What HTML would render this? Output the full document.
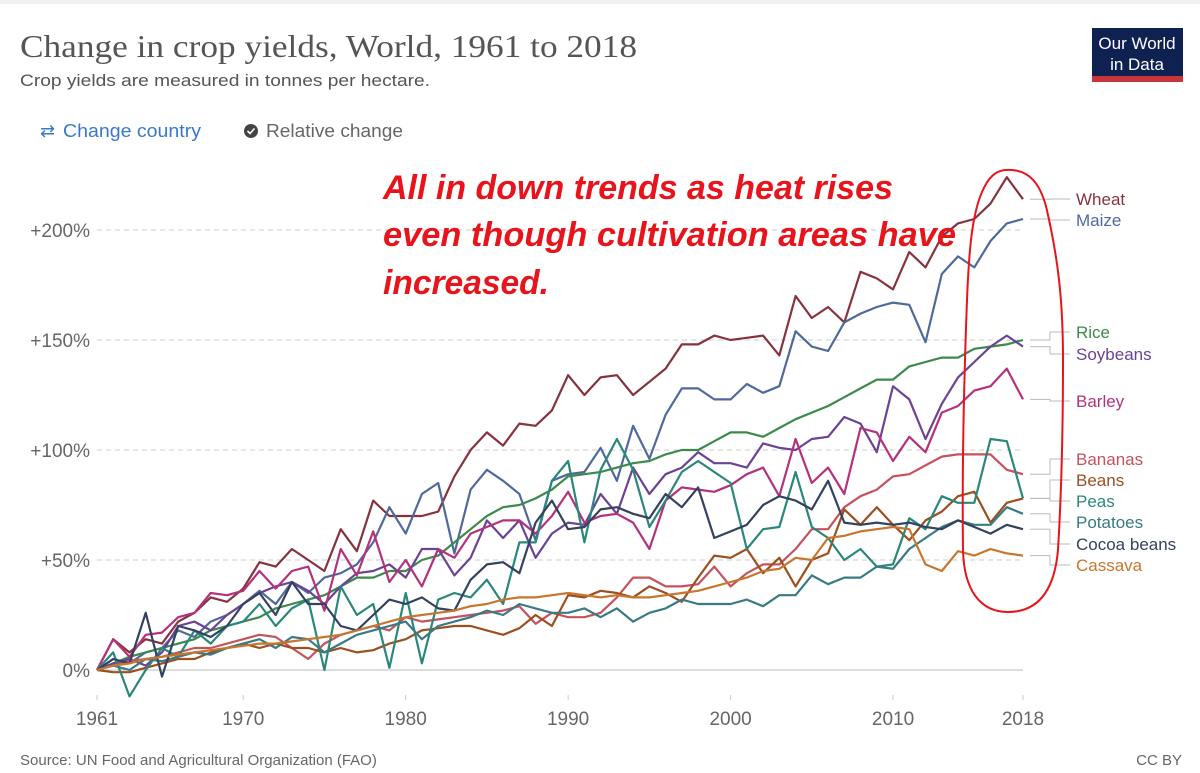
<!DOCTYPE html>
<html><head><meta charset="utf-8">
<style>
html,body{margin:0;padding:0;background:#fff;}
svg{display:block;font-family:"Liberation Sans",sans-serif;}
</style></head>
<body>
<svg id="chart" width="1200" height="773" viewBox="0 0 1200 773">
  <rect x="0" y="0" width="1200" height="773" fill="#fff"/>
  <rect x="0" y="0" width="1200" height="4" fill="#f0f0f0"/>
  <text x="20" y="57" font-family="'Liberation Serif',serif" font-size="32" fill="#555" textLength="617" lengthAdjust="spacingAndGlyphs">Change in crop yields, World, 1961 to 2018</text>
  <text x="20" y="86" font-size="17" fill="#555" textLength="410" lengthAdjust="spacingAndGlyphs">Crop yields are measured in tonnes per hectare.</text>
  <g>
    <rect x="1092" y="28" width="91" height="54" fill="#0f2150"/>
    <rect x="1092" y="76" width="91" height="6" fill="#c8353a"/>
    <text x="1137" y="49" font-size="17" fill="#fff" text-anchor="middle">Our World</text>
    <text x="1137" y="70" font-size="17" fill="#fff" text-anchor="middle">in Data</text>
  </g>
  <g>
    <text x="40" y="137" font-size="18" fill="#3a78c9">⇄</text>
    <text x="63" y="137" font-size="18" fill="#3a78c9" textLength="138" lengthAdjust="spacingAndGlyphs">Change country</text>
  </g>
  <g>
    <circle cx="251" cy="131" r="7" fill="#444"/>
    <path d="M247.5 131 l2.5 2.5 l4.5 -5" stroke="#fff" stroke-width="1.6" fill="none"/>
    <text x="266" y="137" font-size="18" fill="#666" textLength="137" lengthAdjust="spacingAndGlyphs">Relative change</text>
  </g>
  <g id="grid"></g>
  <g id="yticks"></g>
  <g id="xticks"></g>
  <g id="series"></g>
  <g id="labels"></g>
  <g font-size="34" font-style="italic" font-weight="bold" fill="#e8141c">
    <text x="383" y="199" textLength="510" lengthAdjust="spacingAndGlyphs">All in down trends as heat rises</text>
    <text x="383" y="246" textLength="573" lengthAdjust="spacingAndGlyphs">even though cultivation areas have</text>
    <text x="383" y="294" textLength="166" lengthAdjust="spacingAndGlyphs">increased.</text>
  </g>
  <path d="M1005 170 C 1030 168, 1042 185, 1048 215 C 1058 260, 1063 300, 1063 360 C 1063 430, 1061 500, 1058 550 C 1054 595, 1035 612, 1008 612 C 980 612, 964 590, 963 550 C 962 470, 964 380, 967 300 C 969 250, 972 215, 982 192 C 988 178, 995 171, 1005 170 Z" fill="none" stroke="#e8141c" stroke-width="2"/>
  <text x="20" y="765" font-size="15" fill="#666">Source: UN Food and Agricultural Organization (FAO)</text>
  <text x="1182" y="765" font-size="15" fill="#666" text-anchor="end">CC BY</text>
</svg>
<script>
const years = [];
for (let y = 1961; y <= 2018; y++) years.push(y);
const yTickValues = [0, 50, 100, 150, 200];
const yTickLabels = ["0%", "+50%", "+100%", "+150%", "+200%"];
const xTickValues = [1961, 1970, 1980, 1990, 2000, 2010, 2018];
const seriesNames = ["Wheat","Maize","Rice","Soybeans","Barley","Bananas","Beans","Peas","Potatoes","Cocoa beans","Cassava"];
const wheat = [0,14,8,14,12,22,26,33,31,37, 49,47,55,50,45,64,54,77,70,70, 70,72,88,100,108,102,112,111,118,134, 125,133,134,125,131,137,148,148,152,150, 151,152,143,170,160,165,158,181,178,173, 190,183,197,203,205,212,224,214];
const maize = [0,5,3,8,10,18,15,22,25,30, 36,30,40,35,42,44,48,58,74,62, 80,85,53,82,91,86,80,59,86,89, 90,101,86,111,96,116,128,128,123,123, 130,126,129,154,147,145,158,162,165,167, 166,149,180,188,183,195,203,205];
const rice = [0,3,6,8,10,12,14,18,20,22, 24,28,30,32,34,38,42,42,45,45, 50,52,58,64,70,74,75,78,82,88, 89,90,92,94,95,98,100,100,104,108, 108,106,110,114,117,120,124,128,132,132, 138,140,142,142,146,147,148,150];
const soybeans = [0,3,5,2,8,20,22,18,25,30, 35,38,40,36,30,38,44,45,48,42, 55,55,43,51,68,60,68,51,62,67, 66,80,71,92,80,89,92,99,94,94, 92,103,101,100,105,106,115,112,99,129, 123,105,121,133,140,147,152,147];
const barley = [0,14,6,16,17,24,26,35,34,36, 45,37,45,47,27,55,43,63,40,50, 38,55,51,62,65,68,68,62,70,81, 67,70,71,67,55,77,83,82,81,84, 89,92,79,105,85,92,80,110,108,95, 106,99,117,120,127,129,137,123];
const bananas = [0,2,4,5,6,8,10,10,12,14, 16,15,10,5,12,16,18,20,18,24, 22,23,24,25,26,27,29,21,26,24, 24,26,33,42,42,38,38,39,47,38, 44,48,48,55,64,64,74,79,82,88, 89,93,97,98,98,98,91,89];
const beans = [0,-1,-1,1,3,5,5,8,10,12, 10,12,10,10,8,10,8,9,12,14, 18,19,20,20,18,16,19,25,20,34, 33,36,35,33,38,35,31,42,52,51, 55,44,51,38,50,53,73,66,74,66, 59,68,72,79,81,67,76,78];
const peas = [0,8,-12,0,10,6,18,12,20,22, 30,20,28,32,0,38,25,30,1,35, 3,32,35,33,41,30,58,58,86,95, 58,91,105,91,65,77,90,95,90,85, 55,64,65,90,65,60,50,55,47,48, 69,64,79,76,76,105,104,78];
const potatoes = [0,2,0,5,4,6,8,7,10,12, 14,10,15,14,8,12,16,18,20,22, 14,20,22,24,27,25,30,28,26,26, 28,24,28,22,26,28,32,30,30,30, 32,29,34,34,43,39,42,42,47,46, 55,60,65,68,66,66,74,71];
const cocoa = [0,5,3,26,-3,20,18,15,20,30, 35,25,40,30,30,20,18,25,32,30, 33,28,27,41,48,49,44,67,77,64, 65,73,74,71,69,80,74,83,60,63, 66,75,79,77,73,86,67,66,67,66, 67,65,64,68,65,62,66,64];
const cassava = [0,2,3,5,6,7,8,9,10,11, 12,12,13,14,15,16,18,20,22,24, 25,26,27,29,30,32,33,33,34,35, 34,33,34,33,33,34,35,36,38,40, 42,45,46,51,50,60,61,63,64,65, 64,48,45,54,52,55,53,52];
const seriesData = [wheat, maize, rice, soybeans, barley, bananas, beans, peas, potatoes, cocoa, cassava];
const seriesColors = ["#86333e","#50699c","#3b8a4b","#6a4396","#b4327c","#c5535e","#9c4f1f","#2b877a","#397a85","#34425f","#c6772d"];
const labelYs = [199,220,332,354,401,459,480,501,522,544,565];

const NS = "http://www.w3.org/2000/svg";
const X0 = 97, X1 = 1023, Y0 = 670, PX_PER_PCT = 2.2;
function xScale(y){ return X0 + (y - 1961) * (X1 - X0) / (2018 - 1961); }
function yScale(v){ return Y0 - v * PX_PER_PCT; }
function mk(tag, attrs, parent){ const e = document.createElementNS(NS, tag); for (const k in attrs) e.setAttribute(k, attrs[k]); parent.appendChild(e); return e; }

const grid = document.getElementById('grid');
const yt = document.getElementById('yticks');
yTickValues.forEach((v, i) => {
  const yy = yScale(v);
  const ln = mk('line', {x1: X0, x2: X1, y1: yy, y2: yy, stroke: v === 0 ? '#bbb' : '#ccc', 'stroke-width': 1, 'stroke-dasharray': v === 0 ? '' : '5,4'}, grid);
  
  
  const t = mk('text', {x: 90, y: yy + 7, 'font-size': 19, fill: '#666', 'text-anchor': 'end'}, yt);
  t.textContent = yTickLabels[i];
  
  
});
const xt = document.getElementById('xticks');
xTickValues.forEach(v => {
  const xx = xScale(v);
  const tk = mk('line', {x1: xx, x2: xx, y1: 695, y2: 700, stroke: '#ccc'}, xt);
  
  
  const t = mk('text', {x: xx, y: 725, 'font-size': 19, fill: '#666', 'text-anchor': 'middle'}, xt);
  t.textContent = String(v);
  
  
});
const sg = document.getElementById('series');
const lg = document.getElementById('labels');
seriesData.forEach((arr, i) => {
  const d = arr.map((v, j) => (j ? 'L' : 'M') + xScale(years[j]).toFixed(1) + ' ' + yScale(v).toFixed(1)).join(' ');
  const p = mk('path', {d: d, fill: 'none', stroke: seriesColors[i], 'stroke-width': 2.2, 'stroke-linejoin': 'round'}, sg);
  
  
  const endY = yScale(arr[arr.length - 1]);
  const ly = labelYs[i];
  const c = mk('path', {d: 'M1030 ' + endY.toFixed(1) + ' H1050 V' + ly + ' H1070', fill: 'none', stroke: '#bbb', 'stroke-width': 1}, lg);
  
  
  const t = mk('text', {x: 1076, y: ly + 6, 'font-size': 17, fill: seriesColors[i]}, lg);
  t.textContent = seriesNames[i];
  
  
});
</script>
</body></html>
